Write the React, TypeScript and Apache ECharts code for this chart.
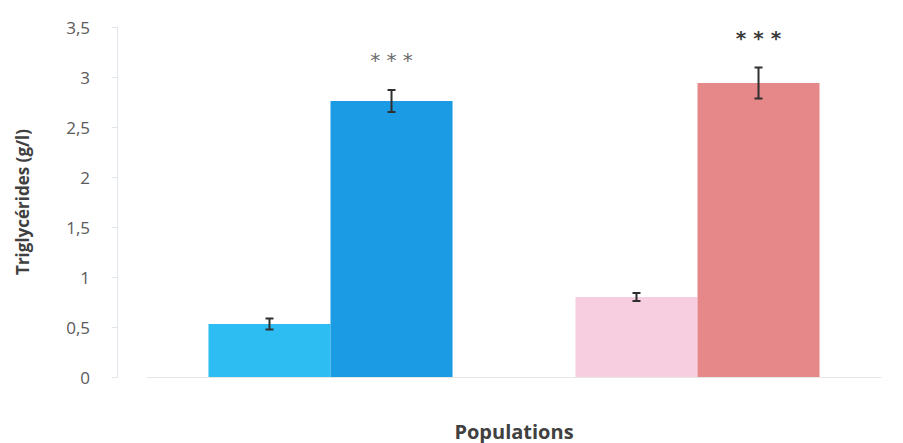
import React, { useEffect, useRef } from "react";
import * as echarts from "echarts";

const categories = ["Population 1", "Population 2"];
const lowValues = [0.53, 0.8];
const lowErrors = [0.055, 0.04];
const highValues = [2.76, 2.94];
const highErrors = [0.11, 0.155];
const lowColors = ["#2dbdf2", "#f7cde0"];
const highColors = ["#1b9be3", "#e6878a"];
const significance = ["* * *", "* * *"];
const starColors = ["#6b6b6b", "#3a3a3a"];
const yMin = 0;
const yMax = 3.5;
const yInterval = 0.5;

const CAT_GAP = 0.335;

export default function App() {
  const ref = useRef<HTMLDivElement>(null);
  useEffect(() => {
    if (!ref.current) return;
    const chart = echarts.init(ref.current, null, { renderer: "svg" });

    const errData: number[][] = [];
    categories.forEach((_, i) => {
      errData.push([i, 0, lowValues[i], lowErrors[i]]);
      errData.push([i, 1, highValues[i], highErrors[i]]);
    });
    const starData = categories.map((_, i) => [i, highValues[i] + highErrors[i]]);

    chart.setOption({
      animation: false,
      grid: { left: 147, right: 22, top: 27, bottom: 66, containLabel: false, outerBoundsMode: "none" },
      xAxis: {
        type: "category",
        data: categories,
        name: "Populations",
        nameLocation: "middle",
        nameGap: 44,
        nameTextStyle: { fontSize: 20, fontWeight: "bold", color: "#404040", fontFamily: "Open Sans" },
        axisLine: { show: true, lineStyle: { color: "#e6e6e6", width: 1 } },
        axisTick: { show: false },
        axisLabel: { show: false },
        splitLine: { show: false },
      },
      yAxis: {
        type: "value",
        min: yMin,
        max: yMax,
        interval: yInterval,
        offset: 30,
        name: "Triglycérides (g/l)",
        nameLocation: "middle",
        nameGap: 86,
        nameRotate: 90,
        nameTextStyle: { fontSize: 17, fontWeight: "bold", color: "#404040", fontFamily: "Open Sans" },
        axisLine: { show: true, lineStyle: { color: "#e0e6ec", width: 1 } },
        axisTick: { show: true, length: 5, lineStyle: { color: "#e0e6ec" } },
        axisLabel: {
          margin: 27,
          fontSize: 17,
          color: "#5a5a5a",
          fontFamily: "Open Sans",
          formatter: (v: number) => String(v).replace(".", ","),
        },
        splitLine: { show: false },
      },
      series: [
        {
          type: "bar",
          name: "bas",
          barGap: "0%",
          barCategoryGap: CAT_GAP * 100 + "%",
          data: lowValues.map((v, i) => ({ value: v, itemStyle: { color: lowColors[i] } })),
        },
        {
          type: "bar",
          name: "haut",
          barGap: "0%",
          barCategoryGap: CAT_GAP * 100 + "%",
          data: highValues.map((v, i) => ({ value: v, itemStyle: { color: highColors[i] } })),
        },
        {
          type: "custom",
          name: "erreurs",
          data: errData,
          encode: { x: 0, y: 2 },
          z: 10,
          renderItem: (params: any, api: any) => {
            const cat = api.value(0);
            const s = api.value(1);
            const v = api.value(2);
            const e = api.value(3);
            const catW = api.size([1, 0])[0];
            const barW = (catW * (1 - CAT_GAP)) / 2;
            const c = api.coord([cat, v]);
            const x = c[0] + (s === 0 ? -barW / 2 : barW / 2);
            const yT = api.coord([cat, v + e])[1];
            const yB = api.coord([cat, v - e])[1];
            const cap = 4;
            const st = { stroke: "#2f2f2f", lineWidth: 2 };
            return {
              type: "group",
              children: [
                { type: "line", shape: { x1: x, y1: yT, x2: x, y2: yB }, style: st },
                { type: "line", shape: { x1: x - cap, y1: yT, x2: x + cap, y2: yT }, style: st },
                { type: "line", shape: { x1: x - cap, y1: yB, x2: x + cap, y2: yB }, style: st },
              ],
            };
          },
        },
        {
          type: "custom",
          name: "signif",
          data: starData,
          encode: { x: 0, y: 1 },
          z: 10,
          renderItem: (params: any, api: any) => {
            const cat = api.value(0);
            const top = api.value(1);
            const catW = api.size([1, 0])[0];
            const barW = (catW * (1 - CAT_GAP)) / 2;
            const c = api.coord([cat, top]);
            return {
              type: "text",
              style: {
                text: significance[params.dataIndex],
                x: c[0] + barW / 2,
                y: c[1] - 30,
                align: "center",
                verticalAlign: "middle",
                fontSize: 20,
                fontFamily: "DejaVu Sans",
                fontWeight: params.dataIndex === 1 ? "bold" : "normal",
                fill: starColors[params.dataIndex],
              },
            };
          },
        },
      ],
    });
    return () => chart.dispose();
  }, []);
  return (
    <div
      ref={ref}
      style={{ position: "absolute", left: 0, top: 0, width: 903, height: 443 }}
    />
  );
}
